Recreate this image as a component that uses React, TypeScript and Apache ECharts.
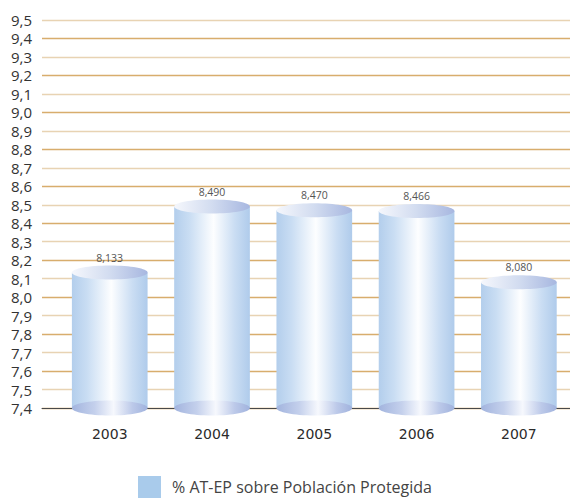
import React, { useEffect, useRef } from "react";
import * as echarts from "echarts";

const years = ["2003", "2004", "2005", "2006", "2007"];
const rates = [8.133, 8.49, 8.47, 8.466, 8.08];
const seriesName = "% AT-EP sobre Población Protegida";
const yMin = 7.4;
const yMax = 9.5;
const yStep = 0.1;

const comma = (v: number, d: number) => v.toFixed(d).replace(".", ",");

const lin = (stops: [number, string][]) => ({
  type: "linear",
  x: 0,
  y: 0,
  x2: 1,
  y2: 0,
  colorStops: stops.map(([offset, color]) => ({ offset, color })),
});

const bodyFill = lin([
  [0, "#B3CEEC"],
  [0.2, "#C9DDF3"],
  [0.52, "#FDFEFF"],
  [0.8, "#CADDF3"],
  [1, "#AFCBEB"],
]);
const topFill = lin([
  [0, "#F5F7FC"],
  [0.5, "#D2DCF0"],
  [1, "#A7B7E0"],
]);
const baseFill = lin([
  [0, "#A2B4DE"],
  [0.3, "#C4D0EC"],
  [0.55, "#F6F8FD"],
  [0.8, "#BCC9E9"],
  [1, "#A0B2DD"],
]);

export default function App() {
  const ref = useRef<HTMLDivElement>(null);

  useEffect(() => {
    if (!ref.current) return;
    const chart = echarts.init(ref.current, null, { renderer: "svg" });
    const top = 20;
    const height = 388;
    chart.setOption({
      animation: false,
      backgroundColor: "#ffffff",
      textStyle: { fontFamily: "Open Sans" },
      grid: [
        { left: 42, right: 0, top, height },
        { left: 58.6, width: 513.75, top, height },
      ],
      xAxis: [
        {
          type: "category",
          gridIndex: 0,
          data: years,
          axisLine: { show: true, lineStyle: { color: "#4a4a4a", width: 1 } },
          axisTick: { show: false },
          axisLabel: { show: false },
        },
        {
          type: "category",
          gridIndex: 1,
          data: years,
          axisLine: { show: false },
          axisTick: { show: false },
          axisLabel: {
            margin: 19,
            color: "#2b2b2b",
            fontFamily: "DejaVu Sans",
            fontSize: 14,
          },
        },
      ],
      yAxis: [
        {
          type: "value",
          gridIndex: 0,
          min: yMin,
          max: yMax,
          interval: yStep,
          axisLine: { show: false },
          axisTick: { show: false },
          axisLabel: {
            margin: 10,
            color: "#333333",
            fontFamily: "Open Sans",
            fontSize: 15,
            lineHeight: 16,
            formatter: (v: number) => comma(v, 1),
          },
          splitLine: {
            show: true,
            lineStyle: { color: ["#D8AD6D", "#E8D3B3"], width: 1.3 },
          },
        },
        {
          type: "value",
          gridIndex: 1,
          min: yMin,
          max: yMax,
          interval: yStep,
          show: false,
          splitLine: { show: false },
        },
      ],
      legend: {
        left: 133,
        top: 471,
        icon: "rect",
        itemWidth: 23,
        itemHeight: 22,
        data: [seriesName],
        textStyle: {
          fontFamily: "Open Sans",
          fontSize: 16,
          color: "#444444",
          padding: [0, 0, 0, 6],
        },
      },
      series: [
        {
          type: "custom",
          name: seriesName,
          xAxisIndex: 1,
          yAxisIndex: 1,
          itemStyle: { color: "#A9CBEB" },
          data: years.map((y, i) => [i, rates[i]]),
          encode: { x: 0, y: 1 },
          renderItem: (params: any, api: any) => {
            const idx = api.value(0);
            const v = api.value(1);
            const pTop = api.coord([idx, v]);
            const pBase = api.coord([idx, yMin]);
            const bw = api.size([1, 0])[0] * 0.74;
            const cx = pTop[0];
            const rx = bw / 2;
            const ryTop = 7;
            const ryBase = 7.5;
            return {
              type: "group",
              children: [
                {
                  type: "rect",
                  shape: { x: cx - rx, y: pTop[1], width: bw, height: pBase[1] - pTop[1] },
                  style: { fill: bodyFill },
                },
                {
                  type: "ellipse",
                  shape: { cx, cy: pBase[1], rx, ry: ryBase },
                  style: { fill: baseFill },
                },
                {
                  type: "ellipse",
                  shape: { cx, cy: pTop[1], rx, ry: ryTop },
                  style: { fill: topFill },
                },
                {
                  type: "text",
                  style: {
                    text: comma(v, 3),
                    x: cx,
                    y: pTop[1] - 15,
                    align: "center",
                    verticalAlign: "middle",
                    fill: "#555555",
                    fontFamily: "Open Sans",
                    fontSize: 10.5,
                  },
                },
              ],
            };
          },
        },
      ],
    });
    return () => chart.dispose();
  }, []);

  return (
    <div
      ref={ref}
      style={{ position: "fixed", left: 0, top: 0, width: 570, height: 502 }}
    />
  );
}
